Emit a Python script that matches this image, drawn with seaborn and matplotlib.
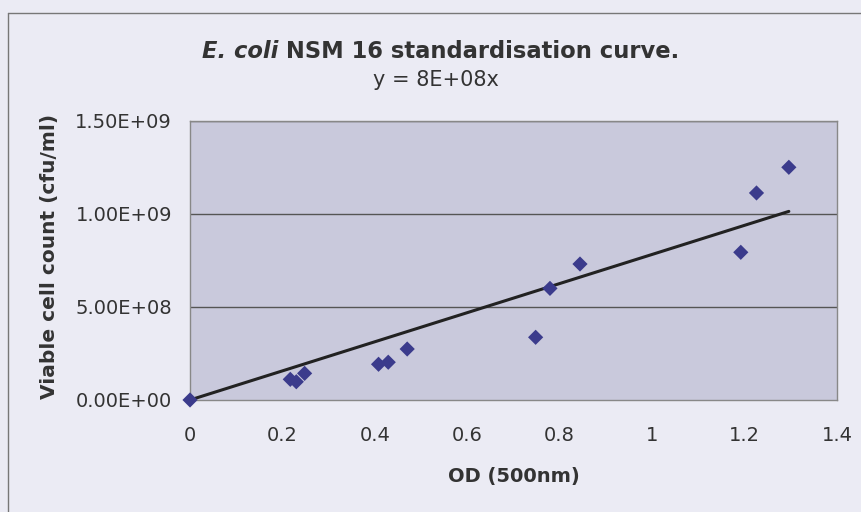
import matplotlib
matplotlib.use('Agg')
import matplotlib.pyplot as plt
import numpy as np
import pandas as pd
import seaborn as sns
from matplotlib.lines import Line2D

sns.set_style('white')
plt.rcParams['font.family'] = ['DejaVu Sans']

# values
od = [0.0, 0.217, 0.230, 0.248, 0.408, 0.429, 0.470, 0.748, 0.779, 0.844, 1.192, 1.226, 1.296]
count = [0.0, 1.11e8, 0.98e8, 1.43e8, 1.92e8, 2.03e8, 2.74e8, 3.37e8, 6.00e8, 7.31e8, 7.94e8, 1.113e9, 1.251e9]
xticks = [0, 0.2, 0.4, 0.6, 0.8, 1, 1.2, 1.4]
yticks = [0, 5e8, 1e9, 1.5e9]
ytick_labels = ['0.00E+00', '5.00E+08', '1.00E+09', '1.50E+09']

df = pd.DataFrame({'od': od, 'count': count})

# linear trendline through origin
slope = (df.od * df['count']).sum() / (df.od ** 2).sum()
trend = pd.DataFrame({'od': [0, df.od.max()]})
trend['count'] = slope * trend.od

bg = '#ebebf4'
txt = '#333333'
fig = plt.figure(figsize=(8.61, 5.12), dpi=100, facecolor=bg)
ax = fig.add_axes([0.2207, 0.2188, 0.972 - 0.2207, 0.7637 - 0.2188])
ax.set_facecolor('#c9c9dc')

for y in yticks[1:]:
    ax.axhline(y, color='#555555', lw=1, zorder=1)

sns.lineplot(data=trend, x='od', y='count', color='#222222', lw=2.2, ax=ax, zorder=3)
sns.scatterplot(data=df, x='od', y='count', marker='D', s=60, color='#3b3b8c',
                edgecolor='none', ax=ax, zorder=4, clip_on=False)

ax.set_xlim(0, 1.4)
ax.set_ylim(0, 1.5e9)
ax.set_xticks(xticks)
ax.set_xticklabels([f'{t:g}' for t in xticks])
ax.set_yticks(yticks)
ax.set_yticklabels(ytick_labels)
ax.tick_params(axis='both', direction='out', length=5, width=1, color='#666666',
               labelsize=14, labelcolor=txt)
ax.tick_params(axis='x', pad=14)
ax.tick_params(axis='y', pad=8)
for s in ax.spines.values():
    s.set_color('#888888')
    s.set_linewidth(1)
ax.set_xlabel('')
ax.set_ylabel('')

fig.text(0.597, 0.07, 'OD (500nm)', ha='center', va='center', fontsize=14,
         fontweight='bold', color=txt)
fig.text(0.058, 0.5, 'Viable cell count (cfu/ml)', ha='center', va='center',
         rotation=90, fontsize=14.5, fontweight='bold', color=txt)

# title with italic species name, centred as a whole
t1 = fig.text(0, 0.9, 'E. coli', ha='left', va='center', fontsize=16.3,
              fontweight='bold', style='italic', color=txt)
t2 = fig.text(0, 0.9, ' NSM 16 standardisation curve.', ha='left', va='center',
              fontsize=16.3, fontweight='bold', color=txt)
fig.canvas.draw()
w1 = t1.get_window_extent().width / fig.bbox.width
w2 = t2.get_window_extent().width / fig.bbox.width
x0 = 0.512 - (w1 + w2) / 2
t1.set_x(x0)
t2.set_x(x0 + w1)
fig.text(0.506, 0.843, 'y = 8E+08x', ha='center', va='center', fontsize=15,
         color=txt)

# chart frame
fig.add_artist(Line2D([0.0093, 0.0093], [0.0, 0.975], transform=fig.transFigure,
                      color='#777777', lw=1))
fig.add_artist(Line2D([0.0093, 1.0], [0.975, 0.975], transform=fig.transFigure,
                      color='#777777', lw=1))

fig.savefig('out.png', dpi=100, facecolor=bg)
